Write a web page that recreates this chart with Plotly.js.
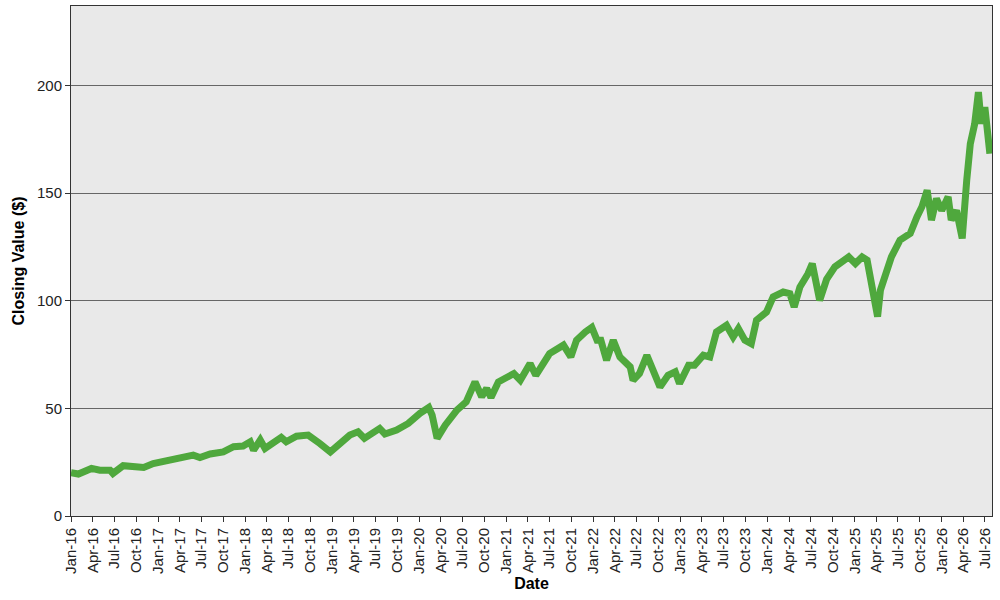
<!DOCTYPE html>
<html>
<head>
<meta charset="utf-8">
<script src="https://cdn.plot.ly/plotly-3.0.1.min.js"></script>
<style>html,body{margin:0;padding:0;background:#fff;}#chart{width:1000px;height:600px;}</style>
</head>
<body>
<div id="chart"></div>
<script>
const dates = [
"2016-01-01","2016-02-01","2016-03-27","2016-05-01","2016-06-13","2016-06-25","2016-08-07","2016-10-02","2016-11-01","2016-12-11",
"2017-02-19","2017-04-01","2017-05-28","2017-06-25","2017-08-07","2017-10-01","2017-11-13","2017-12-23",
"2018-01-22","2018-02-05","2018-03-05","2018-03-25","2018-04-13","2018-06-01","2018-06-22","2018-08-04","2018-09-22","2018-10-28","2018-11-10","2018-12-24",
"2019-02-04","2019-03-16","2019-04-19","2019-05-16","2019-07-19","2019-08-10","2019-09-28","2019-11-16",
"2020-01-04","2020-02-10","2020-02-24","2020-03-16","2020-04-19","2020-06-07","2020-07-16","2020-08-22","2020-09-19","2020-10-10","2020-10-28","2020-11-28",
"2021-02-01","2021-02-28","2021-04-10","2021-05-04","2021-07-01","2021-08-28","2021-09-28","2021-10-22","2021-11-28","2021-12-25",
"2022-01-16","2022-02-01","2022-02-25","2022-03-25","2022-04-22","2022-06-04","2022-06-16","2022-07-13","2022-08-13","2022-09-10","2022-10-07","2022-11-10","2022-12-10","2022-12-28",
"2023-02-04","2023-03-01","2023-04-07","2023-05-04","2023-06-01","2023-07-13","2023-08-10","2023-09-01","2023-09-28","2023-10-25","2023-11-16","2023-12-28",
"2024-01-25","2024-03-07","2024-04-04","2024-04-22","2024-05-16","2024-06-19","2024-07-07","2024-08-07","2024-09-05","2024-10-10","2024-11-07","2024-12-07",
"2025-01-04","2025-02-01","2025-02-22","2025-03-13","2025-04-07","2025-04-19","2025-05-07","2025-06-04","2025-07-10","2025-08-22","2025-09-19","2025-10-10","2025-11-01","2025-11-19","2025-12-10",
"2026-01-01","2026-01-28","2026-02-10","2026-03-04","2026-03-28","2026-04-16","2026-05-01","2026-05-19","2026-06-04","2026-06-16","2026-07-01","2026-07-13","2026-07-22"
];
const closes = [
20.1,19.5,22.1,21.3,21.3,19.8,23.4,23.2,22.6,24.4,
26.0,26.3,28.3,27.2,28.8,29.8,32.2,32.5,
34.5,30.6,35.3,31.4,33.0,36.5,34.5,37.1,37.6,34.0,33.7,29.8,
33.7,37.6,39.1,36.1,40.7,38.1,39.9,43.0,
47.7,50.4,46.9,36.1,42.2,49.2,53.0,62.3,55.4,59.3,55.1,62.3,
66.2,63.1,70.9,65.4,75.5,79.4,73.9,81.7,85.5,87.6,
81.7,81.7,72.4,81.7,73.9,69.3,63.1,66.2,74.7,67.0,60.0,65.4,67.0,61.6,
70.1,70.1,74.7,73.9,85.5,88.6,83.2,87.1,81.7,80.1,91.0,94.8,
101.8,104.1,103.3,97.1,106.4,112.6,117.3,100.2,110.0,115.8,118.1,120.4,
117.3,120.4,118.9,108.0,92.6,105.0,111.1,120.4,128.2,131.3,139.0,143.7,151.4,137.5,147.5,
142.0,148.3,137.5,142.0,129.0,156.0,173.0,182.0,197.0,182.3,190.0,177.7,168.4
];
const xTitle = "Date";
const yTitle = "Closing Value ($)";

const font = "'Liberation Sans', Arial, sans-serif";
Plotly.newPlot('chart', [{
  x: dates, y: closes, type: 'scatter', mode: 'lines',
  line: {color: '#4fa83d', width: 7},
  hoverinfo: 'x+y'
}], {
  width: 1000, height: 600,
  margin: {l: 71, r: 8, t: 6, b: 84},
  paper_bgcolor: '#ffffff',
  plot_bgcolor: '#e9e9e9',
  showlegend: false,
  font: {family: font, size: 15, color: '#222'},
  xaxis: {
    type: 'date',
    range: ['2016-01-01', '2026-07-31'],
    dtick: 'M3', tick0: '2016-01-01', tickformat: '%b-%y',
    tickangle: -90, ticks: 'outside', ticklen: 5, tickcolor: '#333',
    showgrid: false, zeroline: false,
    showline: true, linecolor: '#333', linewidth: 1, mirror: true,
    tickfont: {family: font, size: 15, color: '#222'},
    title: {text: xTitle, font: {family: font, size: 16, color: '#000', weight: 'bold'}, standoff: 4}
  },
  yaxis: {
    range: [0, 237], dtick: 50, tick0: 0,
    ticks: 'outside', ticklen: 5, tickcolor: '#333',
    showgrid: true, gridcolor: '#666666', gridwidth: 1,
    zeroline: false,
    showline: true, linecolor: '#333', linewidth: 1, mirror: true,
    tickfont: {family: font, size: 15, color: '#222'},
    title: {text: yTitle, font: {family: font, size: 16, color: '#000', weight: 'bold'}, standoff: 8}
  }
}, {displayModeBar: false, staticPlot: true});
</script>
</body>
</html>
